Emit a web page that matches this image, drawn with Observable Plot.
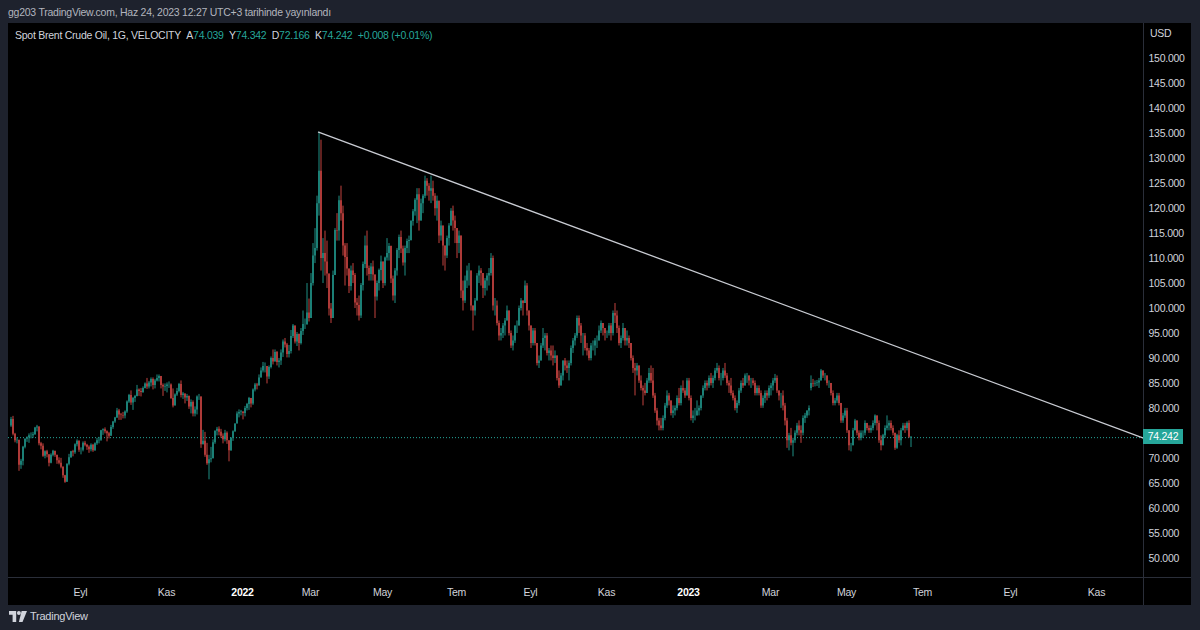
<!DOCTYPE html>
<html><head><meta charset="utf-8">
<script src="https://cdn.jsdelivr.net/npm/d3@7"></script>
<script src="https://cdn.jsdelivr.net/npm/@observablehq/plot@0.6"></script>
<style>
html,body{margin:0;padding:0;background:#1e222d;width:1200px;height:630px;overflow:hidden;
  font-family:"Liberation Sans",Arial,sans-serif;letter-spacing:-0.25px;}
#hdr{position:absolute;left:8px;top:6px;font-size:10.5px;color:#b2b5be;white-space:nowrap;}
#wrap{position:absolute;left:8px;top:23px;width:1183px;height:582px;background:#000;}
#legend{position:absolute;left:15px;top:29px;font-size:10.5px;color:#d1d4dc;white-space:nowrap;}
#legend .v{color:#26a69a;}
.sep{position:absolute;background:#2a2e39;}
#usd{position:absolute;left:1150px;top:27px;font-size:10.5px;color:#d1d4dc;}
#pbox{position:absolute;left:1143px;width:40px;height:15px;background:#26a69a;color:#fff;font-size:10.5px;line-height:15px;text-align:center;}
#foot{position:absolute;left:9px;top:608px;height:16px;display:flex;align-items:center;color:#d1d4dc;font-size:11px;}
</style></head>
<body>
<div id="hdr">gg203 TradingView.com, Haz 24, 2023 12:27 UTC+3 tarihinde yayınlandı</div>
<div id="wrap"></div>
<div class="sep" style="left:1143px;top:23px;width:1px;height:582px"></div>
<div class="sep" style="left:8px;top:577px;width:1183px;height:1px"></div>
<div id="legend"></div>
<div id="usd">USD</div>
<div id="foot"><svg width="18" height="11" viewBox="0 0 20 12"><path d="M0 0h8v12h-4v-8h-4z" fill="#d1d4dc"/><circle cx="11" cy="2.2" r="2.2" fill="#d1d4dc"/><path d="M14 0h6l-5 12h-4z" fill="#d1d4dc"/></svg><span style="margin-left:3px">TradingView</span></div>
<script>
// ---- daily bars: [close, high, low, (open)] ; open defaults to previous close
const jul21=[[77.8,78.2,76.2,76.5],[74.8,78.4,74.5],[73.5,75.0,73.1],[73.6,74.1,72.9],[68.6,73.6,67.4],[69.4,69.8,67.8],[72.2,72.4,68.5],[73.8,73.9,71.9],[74.1,74.3,73.2],[74.5,74.9,73.0],[74.5,75.1,73.9],[74.7,75.2,74.0],[76.1,76.2,74.6],[76.3,76.6,75.3]];
const aug21=[[72.9,76.2,72.5],[72.4,73.2,71.7],[70.4,72.9,70.2],[71.3,71.5,69.9],[70.7,71.6,70.1],[69.0,70.4,68.3],[70.6,70.9,68.9],[71.4,71.6,70.3],[70.6,71.4,70.2],[69.5,70.5,68.8],[69.0,70.1,68.7],[68.2,70.0,67.9],[66.5,68.3,66.0],[65.2,66.6,65.0],[68.8,68.9,65.4],[70.1,70.8,68.5],[71.3,71.4,70.0],[71.1,71.6,70.3],[72.7,72.9,70.8],[73.4,73.7,72.3],[71.6,73.5,71.2]];
const sep21=[[71.6,72.1,70.7],[73.0,73.3,71.3],[72.6,73.4,72.3],[72.2,72.8,71.6],[71.7,72.5,71.0],[72.6,72.9,71.3],[71.5,72.8,71.2],[72.9,73.1,71.4],[73.5,74.0,72.6],[73.6,74.2,72.9],[75.5,75.6,73.4],[75.7,75.9,74.6],[75.3,76.1,74.9],[74.9,75.5,73.3],[74.4,75.2,73.9],[76.2,76.6,74.4],[77.3,77.4,75.8],[78.1,78.2,77.0],[79.5,80.0,78.0],[78.7,79.8,77.6],[78.6,79.0,77.6],[78.5,79.2,77.9]];
const oct21=[[79.3,79.5,77.9],[81.3,81.5,79.0],[82.6,82.8,81.0],[81.1,83.5,80.6],[82.0,82.2,79.6],[82.4,82.6,81.2],[83.7,84.6,82.3],[83.4,83.9,82.4],[83.2,84.0,82.3],[84.0,84.3,83.0],[84.9,85.1,83.9],[84.3,86.0,83.8],[85.1,85.4,83.9],[85.8,86.1,84.3],[84.6,86.1,83.7],[85.5,85.8,83.9],[86.0,86.7,85.3],[86.4,86.7,85.3],[84.6,86.4,83.9],[84.3,84.9,82.4],[84.4,84.9,83.4]];
const nov21=[[84.7,85.1,83.1],[84.7,85.3,84.0],[82.0,84.9,81.8],[80.5,83.9,80.1],[82.7,82.9,80.6],[83.4,84.0,82.4],[84.8,85.0,83.1],[82.6,85.5,82.1],[82.9,83.2,81.8],[82.1,82.7,80.9],[82.4,82.8,81.4],[80.3,82.5,79.8],[81.2,81.7,78.9],[78.9,81.5,78.3],[79.7,80.3,78.3],[82.3,82.5,78.7],[82.3,82.8,81.6],[72.7,82.2,72.0],[73.4,75.6,72.9],[70.6,75.2,70.2]];
const dec21=[[68.9,73.0,68.6],[69.7,70.6,65.7],[69.9,72.2,69.1],[73.1,73.7,70.1],[75.4,75.5,72.8],[75.8,76.2,74.5],[75.2,76.3,74.5],[74.4,75.8,74.0],[73.7,74.9,72.9],[75.0,75.6,73.3],[73.5,75.3,72.8],[71.5,73.4,69.3],[74.0,74.1,71.4],[75.3,75.5,73.4],[76.9,76.9,75.2],[78.9,79.3,78.0],[79.2,79.7,78.1],[79.3,79.6,78.5]];
const jan22=[[79.0,79.3,77.7],[80.0,80.4,78.3],[80.8,81.0,79.5],[82.0,82.2,79.6],[80.9,82.0,80.1],[83.7,83.9,80.6],[84.7,85.0,83.3],[84.5,85.0,83.7],[86.1,86.7,84.5],[87.5,88.1,86.4],[88.4,89.2,87.1],[88.4,89.1,87.1],[86.3,88.0,84.9],[88.2,88.5,85.8],[90.0,90.3,87.9],[89.3,91.7,88.7],[91.2,91.7,89.6]];
const feb22=[[89.2,91.4,88.5],[89.5,90.0,88.1],[91.1,91.7,88.6],[93.3,93.7,90.2],[92.7,94.0,92.1],[90.8,93.0,90.1],[91.4,92.6,90.1],[94.4,95.6,90.9],[96.5,96.8,94.0],[93.3,96.2,92.9],[94.8,95.2,92.4],[93.0,94.9,91.5],[95.4,96.0,92.7],[96.8,99.5,94.6],[96.8,97.9,95.8],[99.1,105.0,96.6],[98.0,101.9,97.3]];
const mar22=[[105.0,107.0,98.0],[110.5,113.0,104.5],[112.0,116.0,109.0],[121.0,122.5,111.5],[127.5,135.3,118.5],[110.0,133.7,107.5],[111.0,114.0,105.0],[109.3,115.5,106.5],[106.9,113.5,104.0],[99.9,105.5,98.5],[98.0,101.0,97.0],[106.6,107.5,98.5],[115.6,116.0,107.5],[115.5,119.0,113.5],[121.6,122.5,113.5],[119.0,124.5,117.5],[112.5,120.5,110.5],[110.2,113.0,104.5],[107.9,113.0,106.5]];
const apr22=[[104.4,107.0,103.0],[107.5,108.5,103.5],[106.6,109.0,105.0],[101.1,107.0,100.0],[100.6,102.0,98.5],[98.5,102.5,97.5],[104.6,105.0,98.0],[108.8,109.3,103.5],[112.5,114.5,108.0],[108.0,115.5,106.5],[106.8,108.5,105.5],[108.3,109.0,105.5],[106.7,109.5,105.5],[102.3,106.5,98.0],[105.0,105.5,101.5],[107.6,107.9,103.5],[109.3,110.5,105.5]];
const may22=[[105.0,108.5,104.0],[110.1,110.3,104.5],[111.0,114.0,109.5],[112.4,113.0,109.5],[105.9,112.5,105.0],[102.5,106.5,101.5],[107.5,108.0,101.0],[111.6,112.0,106.5],[114.2,114.7,110.0],[111.9,115.5,111.0],[109.1,112.5,108.5],[112.0,112.5,106.5],[113.4,113.9,111.0],[113.6,114.5,111.0],[117.4,117.6,113.5],[119.4,119.8,116.5],[121.7,122.0,118.5],[122.8,124.0,117.0]];
const jun22=[[117.5,124.0,115.5],[121.0,121.9,118.5],[122.5,122.8,119.0],[125.5,126.5,122.0],[124.5,126.0,122.5],[123.5,125.0,121.5],[124.0,126.5,121.0],[122.5,125.5,121.5],[120.0,123.0,118.5],[121.5,122.5,117.5],[114.5,121.5,113.0],[116.5,117.5,113.5],[112.5,116.0,108.5],[110.5,112.5,107.5],[114.0,114.5,110.0],[116.5,117.0,112.5],[119.5,120.0,116.5],[117.5,120.5,115.5],[116.0,118.5,113.0]];
const jul22=[[113.0,114.5,110.0],[114.5,115.5,111.0],[103.5,114.0,102.0],[101.5,105.5,99.5],[105.5,106.5,101.0],[107.5,108.5,104.0],[107.5,109.0,104.5],[100.5,107.0,99.5],[99.5,100.5,95.5],[101.5,102.0,98.5],[106.5,107.0,101.5],[107.5,108.5,105.0],[107.0,108.0,104.5],[104.0,107.0,102.0],[105.5,106.0,102.5],[106.5,107.0,103.5],[107.0,108.0,104.5],[110.0,111.0,106.5]];
const aug22=[[100.5,110.5,99.5],[100.5,102.0,98.5],[97.0,101.5,96.5],[94.5,97.5,93.5],[95.0,96.0,93.5],[96.5,97.0,94.0],[97.5,98.0,94.5],[99.5,100.5,97.5],[95.0,98.5,94.5],[92.5,95.5,92.0],[93.5,94.5,91.5],[96.5,96.5,93.0],[96.5,97.5,95.0],[100.0,100.5,96.5],[101.5,102.0,99.5],[101.0,101.5,98.5],[104.5,105.5,101.0],[99.5,105.0,98.5],[96.5,99.5,95.5]];
const sep22=[[93.0,96.5,92.0],[95.5,96.0,92.5],[93.0,96.0,92.5],[89.0,93.0,88.5],[89.5,90.5,88.0],[92.5,93.0,89.5],[94.0,96.0,92.0],[94.5,95.0,91.5],[91.0,95.0,90.5],[91.5,92.0,89.5],[90.5,92.5,89.5],[90.0,92.5,88.5],[90.5,91.5,89.0],[86.0,90.5,85.5],[84.5,87.5,84.0],[86.5,87.0,84.5],[89.5,89.5,85.5],[88.5,90.0,87.5],[88.0,89.5,87.0]];
const oct22=[[89.0,89.5,85.5],[92.0,92.5,88.5],[93.5,94.0,91.0],[94.5,95.0,92.5],[98.0,98.5,94.0],[96.5,98.5,95.0],[94.5,97.0,93.0],[94.5,95.0,90.5],[92.0,95.0,91.5],[91.5,93.0,90.5],[90.0,92.0,89.5],[92.5,93.0,89.5],[92.5,93.5,91.5],[93.5,94.0,90.5],[93.5,94.5,92.0],[95.5,96.5,93.5],[97.0,97.5,95.0],[96.0,97.0,94.5],[95.0,96.0,93.5]];
const nov22=[[95.0,95.5,94.0],[96.5,97.0,94.5],[95.0,97.0,93.5],[99.0,99.5,94.5],[98.5,101.0,97.0],[96.0,99.5,95.0],[93.0,96.5,92.5],[94.0,94.5,92.0],[96.0,97.0,93.5],[93.5,96.0,92.5],[94.0,95.5,92.5],[93.0,94.5,92.0],[90.0,93.0,89.5],[88.0,90.5,87.0],[87.5,89.0,82.5],[88.5,89.0,86.5],[85.5,88.5,85.0],[84.0,86.5,83.5],[83.5,84.5,80.5],[83.0,85.0,82.5],[85.5,86.0,83.0]];
const dec22=[[87.0,88.0,85.0],[85.5,88.5,85.0],[82.5,88.0,82.0],[79.5,83.0,79.0],[77.5,80.0,76.5],[76.5,78.0,75.5],[76.0,78.0,75.5],[78.0,78.5,75.5],[80.5,81.0,77.5],[82.5,83.5,80.0],[81.5,83.0,80.5],[79.0,81.5,78.5],[79.5,80.5,78.0],[80.0,80.5,78.5],[82.0,82.5,79.5],[81.0,84.0,80.5],[84.0,84.5,80.5],[83.5,85.5,83.0],[82.5,84.0,82.0],[85.5,86.0,82.5]];
const jan23=[[82.0,86.0,81.5],[78.0,82.5,77.5],[78.5,79.5,77.0],[78.5,80.0,77.5],[79.5,81.5,78.5],[80.0,80.5,78.5],[82.5,82.5,79.5],[84.0,84.5,82.0],[85.0,85.5,83.5],[84.5,85.5,83.5],[86.0,86.5,84.0],[85.0,87.0,84.5],[86.0,86.5,84.0],[87.5,88.0,85.5],[88.0,89.0,87.0],[86.0,88.5,85.5],[86.0,87.0,84.5],[87.5,88.0,85.5],[86.5,89.0,86.0],[85.0,87.0,84.5],[84.5,85.5,83.0]];
const feb23=[[83.0,86.0,82.5],[82.0,83.5,81.5],[80.0,82.5,79.5],[81.0,81.5,79.0],[83.5,84.0,80.5],[85.0,85.5,83.0],[84.5,86.0,84.0],[86.5,86.9,84.5],[86.5,87.0,85.0],[85.5,86.5,84.5],[85.5,86.0,84.0],[85.0,86.0,84.5],[83.0,85.5,82.5],[84.0,84.5,82.5],[83.0,84.5,82.5],[80.5,83.5,80.0],[82.0,82.5,80.0],[83.0,83.5,81.0],[82.5,83.5,81.5],[84.0,84.5,82.0]];
const mar23=[[84.5,85.0,82.5],[85.5,86.0,83.5],[86.0,86.8,85.0],[83.5,86.5,83.0],[82.5,83.5,81.5],[82.5,83.0,80.0],[80.5,83.5,79.5],[77.5,81.0,76.5],[73.5,78.0,72.0],[74.5,75.0,71.5],[73.0,76.0,72.5],[73.5,74.0,70.3],[75.0,75.5,73.0],[76.5,77.0,74.5],[75.5,77.5,74.5],[75.0,76.5,73.0],[78.0,78.5,74.5],[78.5,79.0,77.0],[79.5,79.5,78.0],[80.0,80.5,78.5]];
const apr23=[[85.0,86.5,83.5,84.0],[84.9,85.8,84.2],[85.0,85.5,84.3],[85.1,85.6,84.4],[85.5,86.0,84.0],[87.5,87.8,85.5],[86.5,87.5,86.0],[86.5,87.0,85.5],[85.0,86.5,84.5],[85.0,85.5,84.0],[83.0,85.0,82.5],[81.0,83.5,80.5],[81.5,82.0,80.5],[82.5,83.0,81.0],[81.0,83.0,80.5],[77.5,81.0,77.0],[78.5,79.0,77.0],[79.5,80.0,78.0]];
const may23=[[75.5,80.0,75.0],[72.5,75.5,71.5],[72.5,73.0,71.3],[75.5,76.0,72.5],[77.5,77.8,75.5],[75.0,77.0,74.5],[74.0,75.5,73.5],[75.0,75.5,73.5],[75.0,75.5,74.0],[77.0,77.5,74.5],[76.0,77.0,75.5],[75.5,76.5,75.0],[76.0,76.5,75.0],[77.0,77.5,75.5],[78.5,78.7,76.5],[77.0,78.0,75.5],[73.5,77.5,73.0],[72.5,74.5,71.5]];
const jun23=[[74.5,74.8,72.5],[76.0,76.5,74.0],[76.5,78.5,75.5],[77.0,77.5,75.5],[76.0,77.5,75.5],[75.0,76.5,74.5],[72.0,75.0,71.6],[74.5,74.8,71.8],[73.5,75.5,73.0],[75.5,76.0,72.5],[76.5,77.0,75.5],[76.0,77.0,75.0],[77.0,77.3,75.5],[74.2,77.5,74.0],[74.242,74.342,72.166,74.039]];

const monthKeys=["2021-07","2021-08","2021-09","2021-10","2021-11","2021-12","2022-01","2022-02","2022-03","2022-04","2022-05","2022-06","2022-07","2022-08","2022-09","2022-10","2022-11","2022-12","2023-01","2023-02","2023-03","2023-04","2023-05","2023-06"];
const monthBars=[jul21,aug21,sep21,oct21,nov21,dec21,jan22,feb22,mar22,apr22,may22,jun22,jul22,aug22,sep22,oct22,nov22,dec22,jan23,feb23,mar23,apr23,may23,jun23];
const tickMonths=["2021-09","2021-11","2022-01","2022-03","2022-05","2022-07","2022-09","2022-11","2023-01","2023-03","2023-05"];
const tickNames=["Eyl","Kas","2022","Mar","May","Tem","Eyl","Kas","2023","Mar","May"];
const futureTickDates=["2023-07-03","2023-09-01","2023-11-01"];
const futureTickNames=["Tem","Eyl","Kas"];
const lastDate="2023-06-23";
const yTicks=d3.range(50,151,5);
const trendPrices=[135.3,74.05];
const legendKeys=["A","Y","D","K"];
const legendVals=["74.039","74.342","72.166","74.242"];
const legendChange="+0.008 (+0.01%)";
const symbolName="Spot Brent Crude Oil, 1G, VELOCITY";
const rightPadBars=116.5;

const UP="#1f8f84", DOWN="#c2423f";
const FONT='"Liberation Sans",Arial,sans-serif';

// build bars
const bars=[]; const monthStart=new Map(); let prev=null;
monthBars.forEach((arr,m)=>{
  monthStart.set(monthKeys[m],bars.length);
  arr.forEach(b=>{
    const [c,h,l,o]=b; const open=(o!==undefined)?o:prev;
    bars.push({i:bars.length,open,close:c,high:Math.max(h,open,c),low:Math.min(l,open,c)});
    prev=c;
  });
});
const last=bars.length-1;
const lastClose=bars[last].close;
const wd=d=>d.getUTCDay()%6!==0;
const futIdx=futureTickDates.map(s=>last+d3.utcDays(d3.utcDay.offset(new Date(lastDate),1),d3.utcDay.offset(new Date(s),1)).filter(wd).length);
const tickIdx=tickMonths.map(k=>monthStart.get(k)).concat(futIdx);
const tickLab=new Map(tickIdx.map((t,j)=>[t,tickNames.concat(futureTickNames)[j]]));
const xMax=last+rightPadBars;
const peak=bars.reduce((a,b)=>b.high>a.high?b:a);
const trend=[{i:peak.i,p:trendPrices[0]},{i:xMax,p:trendPrices[1]}];
const col=d=>d.close>=d.open?UP:DOWN;
// price-axis labels hidden behind the last-price box (as TradingView does)
const shownYTicks=yTicks.filter(t=>Math.abs(t-lastClose)>2);

const chart=Plot.plot({
  width:1183,height:582,marginLeft:0,marginRight:48,marginTop:0,marginBottom:27,
  style:{background:"#000",color:"#d1d4dc",fontSize:"10.5px",fontFamily:FONT,letterSpacing:"-0.25px",overflow:"visible"},
  x:{type:"linear",domain:[-1,xMax],axis:null},
  y:{domain:[45.94,157.07],axis:null},
  marks:[
    Plot.ruleY([lastClose],{stroke:"#26a69a",strokeDasharray:"1,2",strokeWidth:1,dy:0.5}),
    Plot.ruleX(bars,{x:"i",y1:"low",y2:"high",stroke:col,strokeWidth:1,dx:0.5}),
    Plot.ruleX(bars,{x:"i",y1:"open",y2:"close",stroke:col,strokeWidth:1.6,dx:0.5}),
    Plot.line(trend,{x:"i",y:"p",stroke:"#c9ccd3",strokeWidth:1.3}),
    Plot.axisY(shownYTicks,{anchor:"right",tickSize:0,tickPadding:5,textAnchor:"start",tickFormat:d=>d.toFixed(3),fill:"#d1d4dc",label:null}),
    Plot.axisX(tickIdx,{anchor:"bottom",tickSize:0,tickPadding:10,tickFormat:i=>tickLab.get(i),fill:"#d1d4dc",label:null})
  ]
});
document.getElementById("wrap").appendChild(chart);
d3.select(chart).selectAll("text").filter(function(){return /^\d{4}$/.test(this.textContent);}).attr("font-weight","bold").attr("fill","#ffffff");

// last price label on the price axis
const py=chart.scale("y").apply(lastClose)+23;
const pb=document.createElement("div"); pb.id="pbox"; pb.style.top=(py-7.5)+"px"; pb.textContent=lastClose.toFixed(3);
document.body.appendChild(pb);

// legend
const lg=document.getElementById("legend");
lg.innerHTML=symbolName+"&nbsp;&nbsp;"+legendKeys.map((k,j)=>k+'<span class="v">'+legendVals[j]+'</span>').join("&nbsp;&nbsp;")+'&nbsp;&nbsp;<span class="v">'+legendChange+'</span>';
</script>
</body></html>
